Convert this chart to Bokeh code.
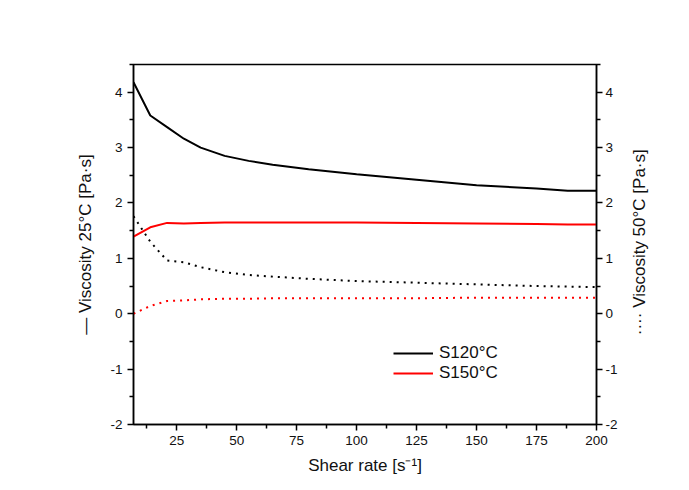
import math
from bokeh.plotting import figure
from bokeh.layouts import row
from bokeh.models import LinearAxis, Range1d, FixedTicker, Legend, LegendItem, Label
from bokeh.embed import file_html
from bokeh.resources import INLINE

shear_rate = [7, 14, 21, 28, 35, 45, 55, 65, 80, 100, 125, 150, 175, 188, 200]
s120_25 = [4.18, 3.58, 3.37, 3.16, 3.00, 2.85, 2.76, 2.69, 2.61, 2.52, 2.42, 2.32, 2.26, 2.22, 2.22]
s150_25 = [1.39, 1.56, 1.64, 1.63, 1.64, 1.645, 1.645, 1.645, 1.645, 1.645, 1.64, 1.63, 1.62, 1.61, 1.61]
s120_50 = [1.76, 1.30, 0.96, 0.93, 0.84, 0.75, 0.70, 0.67, 0.63, 0.59, 0.56, 0.53, 0.50, 0.49, 0.48]
s150_50 = [0.0, 0.14, 0.23, 0.24, 0.26, 0.27, 0.27, 0.28, 0.28, 0.28, 0.28, 0.29, 0.29, 0.29, 0.29]

x_ticks = [25, 50, 75, 100, 125, 150, 175, 200]
x_minor = [12.5, 37.5, 62.5, 87.5, 112.5, 137.5, 162.5, 187.5]
y_ticks = [-2, -1, 0, 1, 2, 3, 4]
y_minor = [-1.5, -0.5, 0.5, 1.5, 2.5, 3.5, 4.5]
y_tick_labels = {-2: "-2", -1: "-1", 0: "0", 1: "1", 2: "2", 3: "3", 4: "4"}

FONT = "Liberation Sans"

p = figure(width=631, height=482, output_backend="svg", toolbar_location=None,
           x_range=Range1d(7, 200), y_range=Range1d(-2, 4.5),
           min_border_left=133, min_border_right=35, min_border_top=64, min_border_bottom=58)
p.extra_y_ranges = {"right": Range1d(-2, 4.5)}
p.grid.visible = False
p.background_fill_color = "white"
p.outline_line_color = "black"
p.outline_line_width = 1.5

def style_axis(ax, ticks, minor):
    ax.ticker = FixedTicker(ticks=ticks, minor_ticks=minor)
    ax.axis_line_width = 1.5
    ax.axis_line_color = "black"
    ax.major_tick_line_width = 1.5
    ax.minor_tick_line_width = 1.5
    ax.major_tick_in = 0
    ax.major_tick_out = 6
    ax.minor_tick_in = 0
    ax.minor_tick_out = 4
    ax.major_label_text_font = FONT
    ax.major_label_text_font_size = "13.5px"
    ax.major_label_text_color = "#111111"
    ax.axis_label_text_font = FONT
    ax.axis_label_text_font_size = "17px"
    ax.axis_label_text_font_style = "normal"
    ax.axis_label_text_color = "#111111"

style_axis(p.xaxis[0], x_ticks, x_minor)
style_axis(p.yaxis[0], y_ticks, y_minor)
p.yaxis[0].major_label_overrides = y_tick_labels
p.yaxis[0].axis_label_standoff = 12
p.xaxis[0].axis_label_standoff = 8
p.xaxis[0].axis_label = "Shear rate [s\u207b\u00b9]"
p.yaxis[0].axis_label = "\u2014 Viscosity 25\u00b0C [Pa\u00b7s]"

right = LinearAxis(y_range_name="right")
style_axis(right, y_ticks, y_minor)
right.major_label_overrides = y_tick_labels
right.major_label_standoff = 3
p.add_layout(right, "right")

r1 = p.line(shear_rate, s120_25, line_color="black", line_width=2)
r2 = p.line(shear_rate, s150_25, line_color="#ff0000", line_width=2)
p.line(shear_rate, s120_50, line_color="black", line_width=2, line_dash="2 5", y_range_name="right")
p.line(shear_rate, s150_50, line_color="#ff0000", line_width=2, line_dash="2 5", y_range_name="right")

legend = Legend(items=[LegendItem(label="S120\u00b0C", renderers=[r1]),
                       LegendItem(label="S150\u00b0C", renderers=[r2])],
                location=(260, 41))
legend.background_fill_alpha = 0
legend.border_line_alpha = 0
legend.padding = 0
legend.margin = 0
legend.spacing = 0
legend.glyph_width = 40
legend.glyph_height = 20
legend.label_height = 20
legend.label_standoff = 6
legend.label_text_font = FONT
legend.label_text_font_size = "17px"
legend.label_text_color = "#111111"
p.add_layout(legend, "center")

# narrow panel holding the right-hand axis title (reads bottom to top)
p2 = figure(width=40, height=482, output_backend="svg", toolbar_location=None,
            x_range=Range1d(0, 40), y_range=Range1d(0, 482),
            min_border_left=0, min_border_right=0, min_border_top=0, min_border_bottom=0)
p2.axis.visible = False
p2.grid.visible = False
p2.outline_line_color = None
p2.background_fill_color = "white"
right_title = Label(x=8, y=244,
                    text="\u00b7\u00b7\u00b7\u00b7 Viscosity 50\u00b0C [Pa\u00b7s]",
                    angle=math.pi / 2, text_align="center", text_baseline="middle",
                    text_font=FONT, text_font_size="17px", text_color="#111111")
p2.add_layout(right_title)

layout = row(p, p2, spacing=0)
open("out.html", "w").write(file_html(layout, INLINE))
